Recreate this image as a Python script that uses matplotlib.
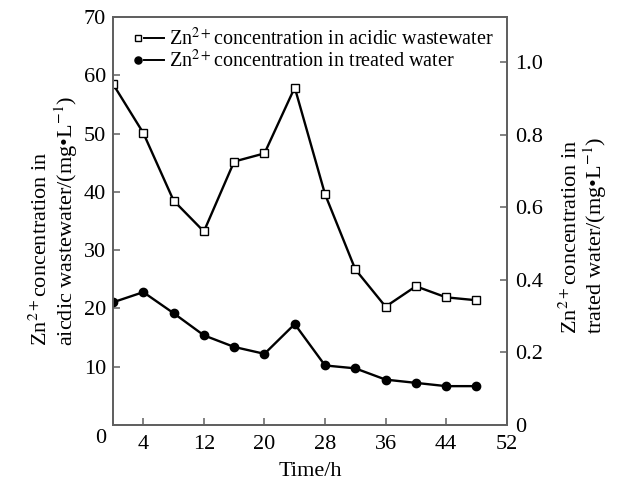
import matplotlib
matplotlib.use("Agg")
import matplotlib.pyplot as plt
from matplotlib.ticker import FixedLocator, FuncFormatter
from matplotlib.legend_handler import HandlerBase
from matplotlib.lines import Line2D
from matplotlib.transforms import ScaledTranslation

plt.rcParams['font.family'] = ['Liberation Serif', 'DejaVu Serif']
plt.rcParams['mathtext.fontset'] = 'stix'

time_h = [0, 4, 8, 12, 16, 20, 24, 28, 32, 36, 40, 44, 48]
acidic = [58.5, 50.1, 38.5, 33.2, 45.2, 46.6, 57.9, 39.6, 26.7, 20.3, 23.8, 21.9, 21.4]
treated = [0.338, 0.366, 0.308, 0.247, 0.215, 0.196, 0.278, 0.164, 0.156, 0.125, 0.116, 0.107, 0.107]

x_ticks = [4, 12, 20, 28, 36, 44, 52]
left_ticks = [0, 10, 20, 30, 40, 50, 60, 70]
right_ticks = [0, 0.2, 0.4, 0.6, 0.8, 1.0]

FS = 16
GREY = '#606060'


class MarkerLeftHandler(HandlerBase):
    def create_artists(self, legend, orig, xdescent, ydescent, width, height,
                       fontsize, trans):
        y = height / 2 - ydescent
        x0 = -xdescent
        line = Line2D([x0 + width * 0.3, x0 + width], [y, y],
                      color=orig.get_color(), lw=1.4, transform=trans)
        mk = Line2D([x0 + width * 0.08], [y], ls='none', marker=orig.get_marker(),
                    ms=orig.get_markersize() * 0.85, mfc=orig.get_markerfacecolor(),
                    mec=orig.get_markeredgecolor(), mew=orig.get_markeredgewidth(),
                    transform=trans)
        return [line, mk]


fig = plt.figure(figsize=(6.22, 4.82), dpi=100)
ax = fig.add_axes([0.1817, 0.1183, 0.633, 0.8464])
ax2 = ax.twinx()

l1, = ax.plot(time_h, acidic, color='black', lw=1.7, marker='s', ms=5.5,
              mfc='white', mec='black', mew=1.0,
              label='Zn$^{2+}$concentration in acidic wastewater')
l2, = ax2.plot(time_h, treated, color='black', lw=1.7, marker='o', ms=6,
               mfc='black', mec='black', mew=1.0,
               label='Zn$^{2+}$concentration in treated water')

ax.set_xlim(0, 52)
ax.set_ylim(0, 70)
ax2.set_ylim(0, 1.124)

ax.xaxis.set_major_locator(FixedLocator(x_ticks))
ax.yaxis.set_major_locator(FixedLocator(left_ticks))
ax2.yaxis.set_major_locator(FixedLocator(right_ticks))
ax2.yaxis.set_major_formatter(FuncFormatter(lambda v, p: '0' if v == 0 else f'{v:.1f}'))

for a in (ax, ax2):
    for s in a.spines.values():
        s.set_color(GREY)
        s.set_linewidth(1.3)
ax.tick_params(axis='x', direction='in', length=5, width=1.1, color=GREY,
               labelsize=FS, pad=7)
ax.tick_params(axis='y', direction='in', length=5, width=1.1, color=GREY,
               labelsize=FS, pad=5)
ax2.tick_params(axis='y', direction='in', length=5, width=1.1, color=GREY,
                labelsize=FS, pad=6)

ax.set_xlabel('Time/h', fontsize=FS, labelpad=6)
ax.set_ylabel('Zn$^{2+}$concentration in\naicdic wastewater/(mg\u2022L$^{-1}$)',
              fontsize=FS, labelpad=3, linespacing=1.0, multialignment='left')
ax2.set_ylabel('Zn$^{2+}$concentration in\ntrated water/(mg\u2022L$^{-1}$)',
               fontsize=FS, labelpad=12, linespacing=1.0, multialignment='left')

leg = ax.legend(handles=[l1, l2], loc='upper left', bbox_to_anchor=(0.03, 1.0),
                frameon=False, fontsize=14.5, handlelength=1.4, handletextpad=0.25,
                labelspacing=0.0, borderaxespad=0.15,
                handler_map={Line2D: MarkerLeftHandler()})

fig.canvas.draw()
# the origin "0" of the left axis sits slightly below its tick, as in the reference
lbl0 = ax.yaxis.get_majorticklabels()[0]
lbl0.set_transform(lbl0.get_transform() + ScaledTranslation(0, -8 / 72, fig.dpi_scale_trans))
# right axis title sits a little lower in the reference
rlab = ax2.yaxis.label
rlab.set_transform(rlab.get_transform() + ScaledTranslation(0, -10 / 72, fig.dpi_scale_trans))

fig.savefig('out.png', dpi=100)
